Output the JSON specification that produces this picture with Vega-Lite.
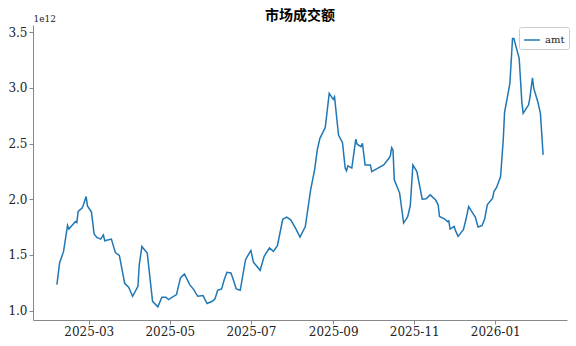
{
 "$schema": "https://vega.github.io/schema/vega-lite/v6.json",
 "width": 534, "height": 295,
 "autosize": "none",
 "padding": {"left": 33, "top": 25, "right": 9, "bottom": 26},
 "title": {"text": "市场成交额", "font": "Noto Sans CJK SC", "fontSize": 14, "fontWeight": "bold", "color": "#000", "anchor": "middle", "offset": -9},
 "config": {"view": {"stroke": null}, "axis": {"grid": false, "domainColor": "#888", "tickColor": "#888", "labelColor": "#222", "labelFont": "DejaVu Serif", "labelFontSize": 12, "tickSize": 4, "labelPadding": 2}},
 "data": {"values": [
  {"date": "2025-02-05", "amt": 1.233e12},
  {"date": "2025-02-07", "amt": 1.427e12},
  {"date": "2025-02-10", "amt": 1.531e12},
  {"date": "2025-02-13", "amt": 1.764e12},
  {"date": "2025-02-14", "amt": 1.732e12},
  {"date": "2025-02-18", "amt": 1.786e12},
  {"date": "2025-02-19", "amt": 1.800e12},
  {"date": "2025-02-20", "amt": 1.790e12},
  {"date": "2025-02-21", "amt": 1.890e12},
  {"date": "2025-02-24", "amt": 1.920e12},
  {"date": "2025-02-25", "amt": 1.950e12},
  {"date": "2025-02-27", "amt": 2.024e12},
  {"date": "2025-02-28", "amt": 1.940e12},
  {"date": "2025-03-03", "amt": 1.884e12},
  {"date": "2025-03-05", "amt": 1.687e12},
  {"date": "2025-03-07", "amt": 1.657e12},
  {"date": "2025-03-10", "amt": 1.642e12},
  {"date": "2025-03-12", "amt": 1.680e12},
  {"date": "2025-03-13", "amt": 1.627e12},
  {"date": "2025-03-18", "amt": 1.642e12},
  {"date": "2025-03-21", "amt": 1.520e12},
  {"date": "2025-03-24", "amt": 1.495e12},
  {"date": "2025-03-28", "amt": 1.245e12},
  {"date": "2025-03-31", "amt": 1.210e12},
  {"date": "2025-04-03", "amt": 1.128e12},
  {"date": "2025-04-07", "amt": 1.218e12},
  {"date": "2025-04-08", "amt": 1.412e12},
  {"date": "2025-04-10", "amt": 1.576e12},
  {"date": "2025-04-11", "amt": 1.560e12},
  {"date": "2025-04-14", "amt": 1.517e12},
  {"date": "2025-04-18", "amt": 1.083e12},
  {"date": "2025-04-22", "amt": 1.033e12},
  {"date": "2025-04-25", "amt": 1.119e12},
  {"date": "2025-04-28", "amt": 1.119e12},
  {"date": "2025-04-30", "amt": 1.099e12},
  {"date": "2025-05-06", "amt": 1.143e12},
  {"date": "2025-05-09", "amt": 1.293e12},
  {"date": "2025-05-12", "amt": 1.329e12},
  {"date": "2025-05-16", "amt": 1.233e12},
  {"date": "2025-05-19", "amt": 1.188e12},
  {"date": "2025-05-22", "amt": 1.128e12},
  {"date": "2025-05-26", "amt": 1.134e12},
  {"date": "2025-05-29", "amt": 1.063e12},
  {"date": "2025-06-02", "amt": 1.083e12},
  {"date": "2025-06-04", "amt": 1.105e12},
  {"date": "2025-06-06", "amt": 1.182e12},
  {"date": "2025-06-09", "amt": 1.194e12},
  {"date": "2025-06-11", "amt": 1.278e12},
  {"date": "2025-06-13", "amt": 1.343e12},
  {"date": "2025-06-16", "amt": 1.338e12},
  {"date": "2025-06-18", "amt": 1.270e12},
  {"date": "2025-06-20", "amt": 1.194e12},
  {"date": "2025-06-23", "amt": 1.182e12},
  {"date": "2025-06-27", "amt": 1.457e12},
  {"date": "2025-07-01", "amt": 1.540e12},
  {"date": "2025-07-03", "amt": 1.433e12},
  {"date": "2025-07-08", "amt": 1.361e12},
  {"date": "2025-07-11", "amt": 1.487e12},
  {"date": "2025-07-15", "amt": 1.562e12},
  {"date": "2025-07-18", "amt": 1.531e12},
  {"date": "2025-07-21", "amt": 1.582e12},
  {"date": "2025-07-25", "amt": 1.820e12},
  {"date": "2025-07-28", "amt": 1.840e12},
  {"date": "2025-07-31", "amt": 1.815e12},
  {"date": "2025-08-04", "amt": 1.732e12},
  {"date": "2025-08-07", "amt": 1.660e12},
  {"date": "2025-08-11", "amt": 1.755e12},
  {"date": "2025-08-15", "amt": 2.084e12},
  {"date": "2025-08-18", "amt": 2.263e12},
  {"date": "2025-08-20", "amt": 2.443e12},
  {"date": "2025-08-22", "amt": 2.547e12},
  {"date": "2025-08-26", "amt": 2.643e12},
  {"date": "2025-08-29", "amt": 2.951e12},
  {"date": "2025-09-01", "amt": 2.897e12},
  {"date": "2025-09-02", "amt": 2.920e12},
  {"date": "2025-09-05", "amt": 2.577e12},
  {"date": "2025-09-08", "amt": 2.508e12},
  {"date": "2025-09-10", "amt": 2.279e12},
  {"date": "2025-09-11", "amt": 2.255e12},
  {"date": "2025-09-12", "amt": 2.300e12},
  {"date": "2025-09-15", "amt": 2.279e12},
  {"date": "2025-09-18", "amt": 2.539e12},
  {"date": "2025-09-19", "amt": 2.494e12},
  {"date": "2025-09-22", "amt": 2.473e12},
  {"date": "2025-09-23", "amt": 2.503e12},
  {"date": "2025-09-25", "amt": 2.308e12},
  {"date": "2025-09-29", "amt": 2.308e12},
  {"date": "2025-09-30", "amt": 2.248e12},
  {"date": "2025-10-09", "amt": 2.308e12},
  {"date": "2025-10-13", "amt": 2.368e12},
  {"date": "2025-10-14", "amt": 2.389e12},
  {"date": "2025-10-15", "amt": 2.463e12},
  {"date": "2025-10-16", "amt": 2.443e12},
  {"date": "2025-10-17", "amt": 2.174e12},
  {"date": "2025-10-21", "amt": 2.055e12},
  {"date": "2025-10-24", "amt": 1.786e12},
  {"date": "2025-10-27", "amt": 1.840e12},
  {"date": "2025-10-29", "amt": 1.941e12},
  {"date": "2025-10-31", "amt": 2.308e12},
  {"date": "2025-11-03", "amt": 2.248e12},
  {"date": "2025-11-07", "amt": 2.001e12},
  {"date": "2025-11-10", "amt": 2.004e12},
  {"date": "2025-11-13", "amt": 2.039e12},
  {"date": "2025-11-17", "amt": 1.995e12},
  {"date": "2025-11-19", "amt": 1.950e12},
  {"date": "2025-11-20", "amt": 1.845e12},
  {"date": "2025-11-24", "amt": 1.822e12},
  {"date": "2025-11-26", "amt": 1.800e12},
  {"date": "2025-11-27", "amt": 1.806e12},
  {"date": "2025-11-28", "amt": 1.732e12},
  {"date": "2025-12-01", "amt": 1.756e12},
  {"date": "2025-12-02", "amt": 1.720e12},
  {"date": "2025-12-04", "amt": 1.666e12},
  {"date": "2025-12-08", "amt": 1.726e12},
  {"date": "2025-12-10", "amt": 1.822e12},
  {"date": "2025-12-12", "amt": 1.935e12},
  {"date": "2025-12-15", "amt": 1.875e12},
  {"date": "2025-12-17", "amt": 1.840e12},
  {"date": "2025-12-19", "amt": 1.750e12},
  {"date": "2025-12-22", "amt": 1.762e12},
  {"date": "2025-12-24", "amt": 1.822e12},
  {"date": "2025-12-26", "amt": 1.950e12},
  {"date": "2025-12-30", "amt": 2.010e12},
  {"date": "2025-12-31", "amt": 2.069e12},
  {"date": "2026-01-02", "amt": 2.105e12},
  {"date": "2026-01-05", "amt": 2.203e12},
  {"date": "2026-01-07", "amt": 2.532e12},
  {"date": "2026-01-08", "amt": 2.780e12},
  {"date": "2026-01-09", "amt": 2.846e12},
  {"date": "2026-01-12", "amt": 3.040e12},
  {"date": "2026-01-14", "amt": 3.444e12},
  {"date": "2026-01-15", "amt": 3.444e12},
  {"date": "2026-01-19", "amt": 3.265e12},
  {"date": "2026-01-21", "amt": 2.875e12},
  {"date": "2026-01-22", "amt": 2.771e12},
  {"date": "2026-01-26", "amt": 2.846e12},
  {"date": "2026-01-27", "amt": 2.906e12},
  {"date": "2026-01-29", "amt": 3.090e12},
  {"date": "2026-01-30", "amt": 2.996e12},
  {"date": "2026-02-02", "amt": 2.875e12},
  {"date": "2026-02-04", "amt": 2.771e12},
  {"date": "2026-02-06", "amt": 2.398e12}
 ]},
 "mark": {"type": "line", "strokeWidth": 1.5},
 "encoding": {
  "x": {"field": "date", "type": "temporal",
   "scale": {"type": "utc", "domain": [{"year": 2025, "month": 1, "date": 18, "utc": true}, {"year": 2026, "month": 2, "date": 24, "utc": true}]},
   "axis": {"title": null, "format": "%Y-%m", "labelFlush": false, "values": [
     {"year": 2025, "month": 3, "date": 1, "utc": true},
     {"year": 2025, "month": 5, "date": 1, "utc": true},
     {"year": 2025, "month": 7, "date": 1, "utc": true},
     {"year": 2025, "month": 9, "date": 1, "utc": true},
     {"year": 2025, "month": 11, "date": 1, "utc": true},
     {"year": 2026, "month": 1, "date": 1, "utc": true}
   ]}},
  "y": {"field": "amt", "type": "quantitative",
   "scale": {"domain": [0.915e12, 3.565e12], "nice": false, "zero": false},
   "axis": {"values": [1e12, 1.5e12, 2e12, 2.5e12, 3e12, 3.5e12], "labelExpr": "format(datum.value / 1e12, '.1f')",
     "title": "1e12", "titleAngle": 0, "titleX": 0, "titleY": -7, "titleAlign": "left", "titleBaseline": "middle",
     "titleFont": "DejaVu Serif", "titleFontSize": 9, "titleFontWeight": "normal", "titleColor": "#222"}},
  "color": {"datum": "amt", "type": "nominal", "scale": {"range": ["#1f77b4"]},
   "legend": {"title": null, "orient": "none", "legendX": 486, "legendY": 2, "symbolType": "stroke", "symbolStrokeWidth": 1.5, "symbolSize": 250,
     "strokeColor": "#ccc", "fillColor": "white", "padding": 4, "cornerRadius": 2, "labelFont": "DejaVu Serif", "labelFontSize": 10, "labelColor": "#222"}}
 }
}
